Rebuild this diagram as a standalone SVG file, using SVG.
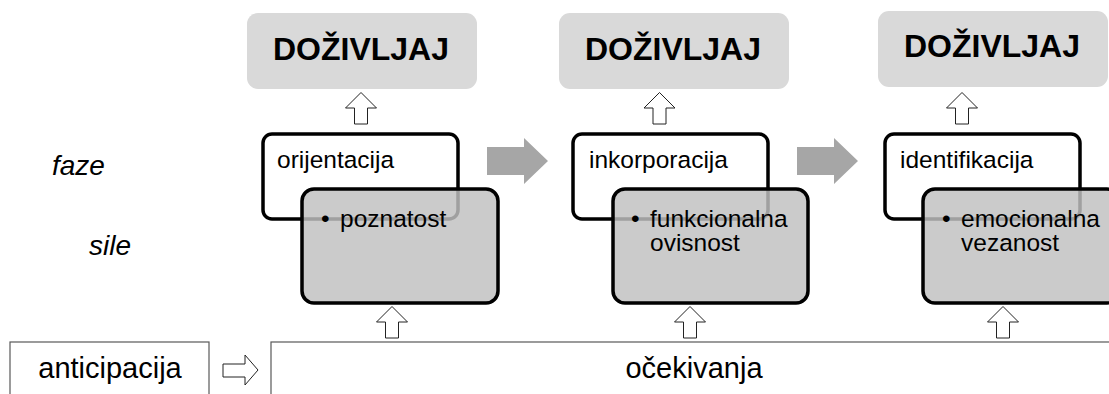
<svg xmlns="http://www.w3.org/2000/svg" width="1109" height="394" viewBox="0 0 1109 394">
<style>
.dz{fill:#d9d9d9;stroke:none}
.dzt{font-family:"Liberation Sans",Arial,sans-serif;font-weight:bold;font-size:32px;fill:#000;text-anchor:middle}
.ph{fill:#fff;stroke:#000;stroke-width:3.5}
.sl{fill:#c1c1c1;fill-opacity:0.83;stroke:#000;stroke-width:3.5}
.t{font-family:"Liberation Sans",Arial,sans-serif;font-size:24.5px;fill:#000}
.b{font-family:"Liberation Sans",Arial,sans-serif;font-size:29px;fill:#000;text-anchor:middle}
.it{font-family:"Liberation Sans",Arial,sans-serif;font-style:italic;font-size:28px;fill:#000}
.ha{fill:#fff;stroke:#222;stroke-width:1}
.ga{fill:#a6a6a6;stroke:none}
.bx{fill:#fff;stroke:#595959;stroke-width:1.2}
</style>
<defs>
<path id="up" d="M0,-15.5 L15.5,0 L6.5,0 L6.5,16 L-6.5,16 L-6.5,0 L-15.5,0 Z"/>
<path id="gr" d="M0,-14 L37,-14 L37,-23 L61,0 L37,23 L37,14 L0,14 Z"/>
</defs>

<g id="labels">
<text class="it" x="52" y="175">faze</text>
<text class="it" x="89" y="255">sile</text>
</g>

<g id="dozivljaj1"><rect class="dz" x="247" y="13" width="230" height="76" rx="11"/><text class="dzt" x="361" y="60">DOŽIVLJAJ</text></g>
<g id="dozivljaj2"><rect class="dz" x="559" y="13" width="230" height="76" rx="11"/><text class="dzt" x="673" y="60">DOŽIVLJAJ</text></g>
<g id="dozivljaj3"><rect class="dz" x="878" y="11" width="230" height="76" rx="11"/><text class="dzt" x="992" y="57">DOŽIVLJAJ</text></g>

<g id="faza1">
<rect class="ph" x="263" y="134" width="195" height="85" rx="9"/>
<text class="t" x="277" y="168">orijentacija</text>
</g>
<g id="sila1">
<rect class="sl" x="302" y="189" width="196" height="114" rx="12"/>
<text class="t" x="321" y="227">•</text>
<text class="t" x="340" y="227">poznatost</text>
</g>

<g id="faza2">
<rect class="ph" x="573" y="134" width="195" height="85" rx="9"/>
<text class="t" x="589" y="168">inkorporacija</text>
</g>
<g id="sila2">
<rect class="sl" x="613" y="189" width="195" height="114" rx="12"/>
<text class="t" x="631" y="227">•</text>
<text class="t" x="650" y="227">funkcionalna<tspan x="650" dy="24">ovisnost</tspan></text>
</g>

<g id="faza3">
<rect class="ph" x="885" y="134" width="195" height="85" rx="9"/>
<text class="t" x="900" y="168">identifikacija</text>
</g>
<g id="sila3">
<rect class="sl" x="923" y="189" width="196" height="114" rx="12"/>
<text class="t" x="942" y="227">•</text>
<text class="t" x="961" y="227">emocionalna<tspan x="961" dy="24">vezanost</tspan></text>
</g>

<g id="anticipacija">
<rect class="bx" x="10" y="342" width="199" height="70"/>
<text class="b" x="110" y="378">anticipacija</text>
</g>
<g id="ocekivanja">
<rect class="bx" x="271" y="342" width="860" height="70"/>
<text class="b" x="694" y="378">očekivanja</text>
</g>

<g id="connectors">
<use href="#up" class="ha" x="361" y="108"/>
<use href="#up" class="ha" x="659.5" y="108"/>
<use href="#up" class="ha" x="962" y="108"/>
<use href="#up" class="ha" x="392" y="322"/>
<use href="#up" class="ha" x="690" y="322"/>
<use href="#up" class="ha" x="1003" y="322"/>
<use href="#gr" class="ga" x="487" y="161"/>
<use href="#gr" class="ga" x="797" y="161"/>
<path class="ha" d="M223,364 L245,364 L245,355 L258,370 L245,385 L245,377 L223,377 Z"/>
</g>
</svg>
